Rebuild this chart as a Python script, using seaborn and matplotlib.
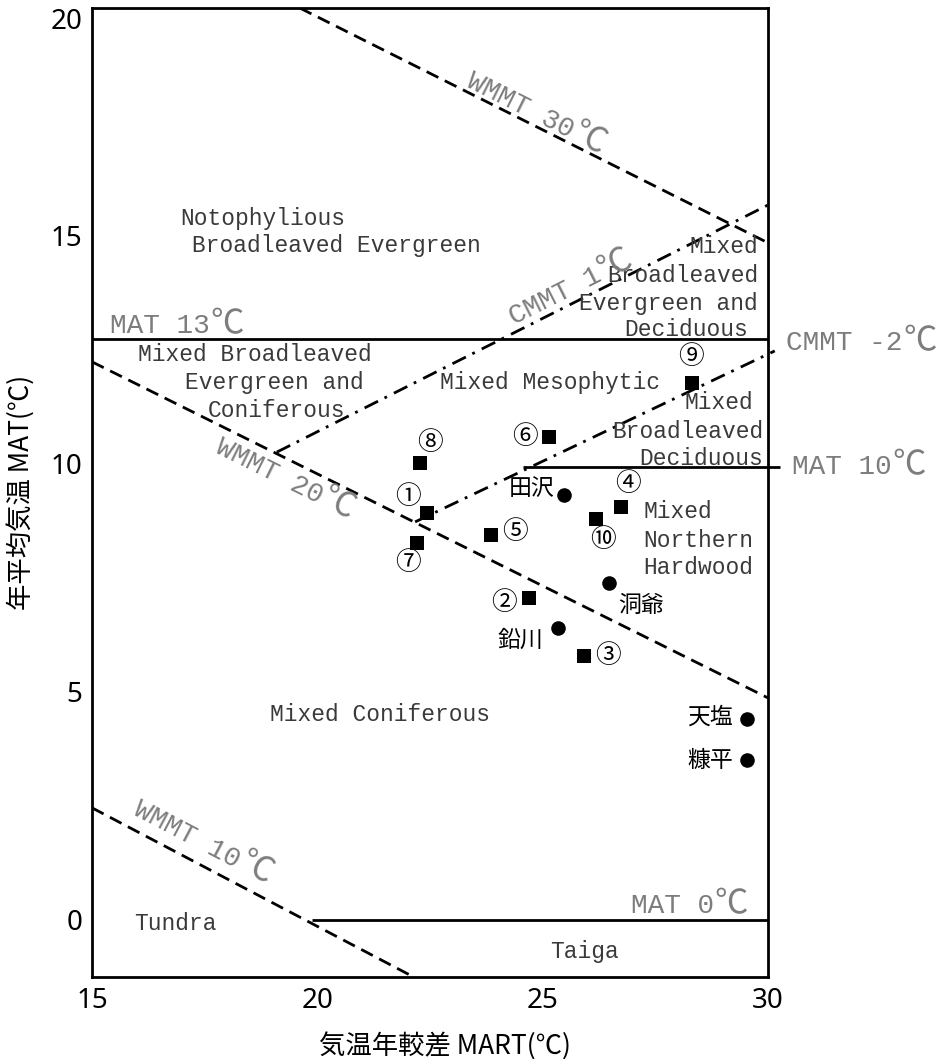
import numpy as np
import pandas as pd
import matplotlib
matplotlib.use("Agg")
import matplotlib.pyplot as plt
import seaborn as sns

# ---------------- data ----------------
# boundary lines (MART, MAT) endpoints
wmmt30_x = [19.61, 30.0]
wmmt30_y = [20.0, 14.85]
wmmt20_x = [15.0, 30.0]
wmmt20_y = [12.24, 4.87]
wmmt10_x = [15.0, 22.06]
wmmt10_y = [2.46, -1.21]
cmmt1_x = [19.10, 30.0]
cmmt1_y = [10.26, 15.68]
cmmtm2_x = [22.17, 30.15]
cmmtm2_y = [8.73, 12.48]
mat13_x = [15.0, 30.0]
mat13_y = [12.74, 12.74]
mat10_x = [24.56, 30.27]
mat10_y = [9.93, 9.93]
mat0_x = [19.88, 30.0]
mat0_y = [0.0, 0.0]

# numbered sites (squares)
site_ids = ["①", "②", "③", "④", "⑤", "⑥", "⑦", "⑧", "⑨", "⑩"]
site_mart = [22.43, 24.70, 25.92, 26.74, 23.85, 25.14, 22.21, 22.28, 28.31, 26.18]
site_mat = [8.93, 7.06, 5.79, 9.06, 8.44, 10.59, 8.27, 10.02, 11.78, 8.79]

# weather stations (circles)
stations = ["田沢", "洞爺", "鉛川", "天塩", "糠平"]
st_mart = [25.47, 26.47, 25.34, 29.53, 29.53]
st_mat = [9.32, 7.39, 6.40, 4.41, 3.51]

x_ticks = [15, 20, 25, 30]
y_ticks = [0, 5, 10, 15, 20]
x_label = "気温年較差 MART(℃)"
y_label = "年平均気温 MAT(℃)"

# ---------------- style ----------------
sns.set_theme(style="white")
plt.rcParams["font.family"] = ["Noto Sans CJK JP", "DejaVu Sans"]
MONO = ["Liberation Mono", "Noto Sans CJK JP", "DejaVu Sans"]
CJK = ["Noto Sans CJK JP", "DejaVu Sans"]
GRAY = "#7d7d7d"
DARK = "#3a3a3a"

fig = plt.figure(figsize=(9.39, 10.59), dpi=100)
ax = fig.add_axes([92 / 939, 1 - 977 / 1059, 676 / 939, 969 / 1059])
ax.set_xlim(15, 30)
ax.set_ylim(-1.25, 20)

for s in ax.spines.values():
    s.set_visible(True)
    s.set_color("black")
    s.set_linewidth(2.0)

LW = 2.0
dash = (0, (4.7, 2.6))
dashdot = (0, (5.4, 2.6, 1.0, 2.8))

def bline(xs, ys, ls, clip=True):
    df = pd.DataFrame({"x": xs, "y": ys})
    ax.plot(df["x"], df["y"], color="black", lw=LW, linestyle=ls,
            solid_capstyle="butt", clip_on=clip, zorder=2)

bline(wmmt30_x, wmmt30_y, dash)
bline(wmmt20_x, wmmt20_y, dash)
bline(wmmt10_x, wmmt10_y, dash)
bline(cmmt1_x, cmmt1_y, dashdot)
bline(cmmtm2_x, cmmtm2_y, dashdot, clip=False)
bline(mat13_x, mat13_y, "-")
bline(mat10_x, mat10_y, "-", clip=False)
bline(mat0_x, mat0_y, "-")

# points
sites = pd.DataFrame({"MART": site_mart, "MAT": site_mat, "id": site_ids})
stn = pd.DataFrame({"MART": st_mart, "MAT": st_mat, "name": stations})
sns.scatterplot(data=sites, x="MART", y="MAT", marker="s", s=88, color="black",
                linewidth=0, ax=ax, zorder=4)
sns.scatterplot(data=stn, x="MART", y="MAT", marker="o", s=110, color="black",
                linewidth=0, ax=ax, zorder=4)

# label offsets (pixels, screen y down)
site_off = [(-19, -16), (-25, 5), (24, 0), (7, -23), (24, -3),
            (-24, 0), (-9, 20), (10, -20), (-1, -26), (7, 21)]
st_off = [(-32, -7), (32, 22), (-38, 12), (-37, -2), (-37, 0)]
for (x, y, t), (dx, dy) in zip(zip(site_mart, site_mat, site_ids), site_off):
    ax.annotate(t, (x, y), xytext=(dx * 0.72, -dy * 0.72), textcoords="offset points",
                ha="center", va="center", fontsize=18.5, color="black", family=CJK)
for (x, y, t), (dx, dy) in zip(zip(st_mart, st_mat, stations), st_off):
    ax.annotate(t, (x, y), xytext=(dx * 0.72, -dy * 0.72), textcoords="offset points",
                ha="center", va="center", fontsize=16.5, color="black", family=CJK)

# region names
regions = [
    ("Notophylious", 16.95, 15.39, "left"),
    ("Broadleaved Evergreen", 17.22, 14.80, "left"),
    ("Mixed Broadleaved", 16.02, 12.41, "left"),
    ("Evergreen and", 17.06, 11.78, "left"),
    ("Coniferous", 17.57, 11.18, "left"),
    ("Mixed Mesophytic", 22.72, 11.78, "left"),
    ("Mixed", 29.78, 14.76, "right"),
    ("Broadleaved", 29.78, 14.14, "right"),
    ("Evergreen and", 29.78, 13.53, "right"),
    ("Deciduous", 29.55, 12.96, "right"),
    ("Mixed", 29.67, 11.34, "right"),
    ("Broadleaved", 29.89, 10.72, "right"),
    ("Deciduous", 29.89, 10.13, "right"),
    ("Mixed", 27.23, 8.95, "left"),
    ("Northern", 27.23, 8.33, "left"),
    ("Hardwood", 27.23, 7.74, "left"),
    ("Mixed Coniferous", 18.95, 4.50, "left"),
    ("Tundra", 15.93, -0.07, "left"),
    ("Taiga", 25.16, -0.68, "left"),
]
for t, x, y, ha in regions:
    ax.text(x, y, t, ha=ha, va="center", fontsize=16.5, color=DARK,
            family=MONO, zorder=3)

# boundary labels: mono text + wide CJK degree sign
fig.canvas.draw()
renderer = fig.canvas.get_renderer()

def measure(text, size, family):
    t = ax.text(0, 0, text, fontsize=size, family=family)
    w = t.get_window_extent(renderer).width
    t.remove()
    return w

def angle(xs, ys):
    p = ax.transData.transform(np.column_stack([xs, ys]))
    return np.degrees(np.arctan2(p[1, 1] - p[0, 1], p[1, 0] - p[0, 0]))

DEG_SIZE = 24

def gray_label(x, y, main, rot, align, base_drop):
    w1 = measure(main, 20, MONO)
    w2 = measure("℃", DEG_SIZE, CJK)
    gap = 1.0
    total = w1 + gap + w2
    s0 = {"left": 0.0, "center": -total / 2, "right": -total}[align]
    th = np.radians(rot)
    c, s = np.cos(th), np.sin(th)
    bx, by = base_drop * s, -base_drop * c
    for txt, start, size, fam in [(main, s0, 20, MONO), ("℃", s0 + w1 + gap, DEG_SIZE, CJK)]:
        ox = start * c + bx
        oy = start * s + by
        ax.annotate(txt, (x, y), xytext=(ox * 0.72, oy * 0.72), textcoords="offset points",
                    rotation=rot, rotation_mode="anchor", ha="left", va="baseline",
                    fontsize=size, color=GRAY, family=fam, annotation_clip=False, zorder=3)

rot_labels = [
    ("WMMT 30", 24.85, 17.70, wmmt30_x, wmmt30_y),
    ("CMMT 1", 25.61, 13.86, cmmt1_x, cmmt1_y),
    ("WMMT 20", 19.28, 9.69, wmmt20_x, wmmt20_y),
    ("WMMT 10", 17.46, 1.71, wmmt10_x, wmmt10_y),
]
for t, x, y, lx, ly in rot_labels:
    gray_label(x, y, t, angle(lx, ly), "center", 8)

flat_labels = [
    ("MAT 13", 15.40, 12.87, "left"),
    ("MAT 10", 30.53, 9.78, "left"),
    ("CMMT -2", 30.40, 12.50, "left"),
    ("MAT 0", 29.56, 0.15, "right"),
]
for t, x, y, ha in flat_labels:
    gray_label(x, y, t, 0.0, ha, 0)

# axes ticks & labels
ax.set_xticks(x_ticks)
ax.set_yticks(y_ticks)
ax.set_xticklabels([str(v) for v in x_ticks], fontsize=20, family="Noto Sans")
ax.set_yticklabels([str(v) for v in y_ticks], fontsize=20, family="Noto Sans")
ax.get_yticklabels()[-1].set_va("top")
ax.tick_params(length=0, pad=7, colors="black")
ax.set_xlabel(x_label, fontsize=19, color="black")
ax.set_ylabel(y_label, fontsize=19, color="black")
ax.xaxis.set_label_coords(0.522, -0.057)
ax.yaxis.set_label_coords(-0.084, 0.5)
ax.grid(False)

fig.savefig("out.png", dpi=100)
